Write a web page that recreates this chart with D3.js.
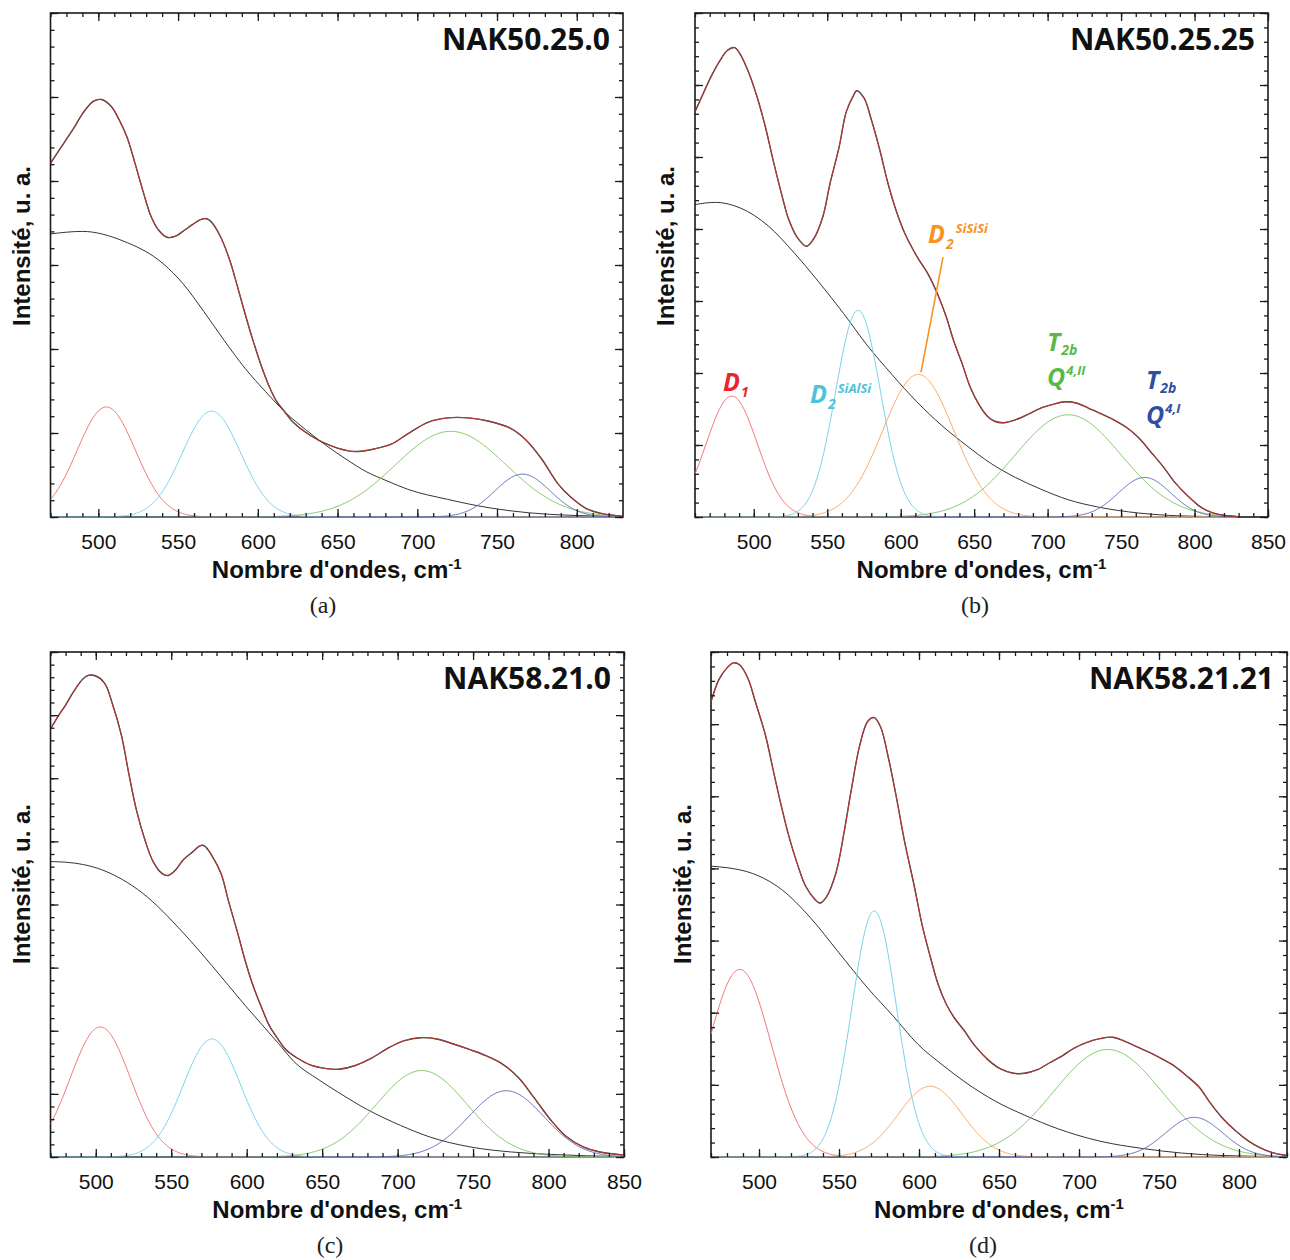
<!DOCTYPE html>
<html><head><meta charset="utf-8">
<script src="https://cdn.jsdelivr.net/npm/d3@7/dist/d3.min.js"></script>
<style>
body{margin:0;background:#fff;}
svg{display:block;}
</style></head>
<body><svg id="chart" width="1290" height="1260"></svg>
<script>
// ================= DATA =================
// intensity unit = one major y tick of each panel (axes carry no numbers)
const sampleNames = ["NAK50.25.0", "NAK50.25.25", "NAK58.21.0", "NAK58.21.21"];
const captions = ["(a)", "(b)", "(c)", "(d)"];
const xTitle = "Nombre d'ondes, cm";
const xTitleSup = "-1";
const yTitle = "Intensité, u. a.";

const xTickLabelsA = [500, 550, 600, 650, 700, 750, 800];
const xTickLabelsB = [500, 550, 600, 650, 700, 750, 800, 850];
const xTickLabelsC = [500, 550, 600, 650, 700, 750, 800, 850];
const xTickLabelsD = [500, 550, 600, 650, 700, 750, 800];

// measured spectra (wavenumber, intensity)
const specWnA = [470,479,485,490,497,502,508,513,518,523,528,533,538,543,548,553,559,564,568,571,576,582,587,592,597,602,607,612,617,622,633,643,656,663,673,684,694,707,719,732,745,758,768,778,788,796,806,816,829];
const specIntA = [4.21,4.47,4.64,4.80,4.95,4.97,4.89,4.73,4.52,4.21,3.88,3.58,3.41,3.33,3.34,3.40,3.48,3.54,3.55,3.51,3.36,3.08,2.76,2.42,2.10,1.81,1.56,1.37,1.25,1.13,0.97,0.87,0.79,0.78,0.81,0.87,0.99,1.13,1.18,1.18,1.14,1.06,0.92,0.69,0.40,0.24,0.10,0.04,0.01];

const specWnB = [460,466,471,477,482,487,491,496,502,508,513,519,524,530,536,541,547,552,558,563,568,570,575,580,586,591,597,603,611,619,625,631,636,642,647,653,659,664,670,678,687,695,703,712,720,728,737,745,754,762,770,779,787,796,804,812,821,829];
const specIntB = [5.63,5.90,6.12,6.34,6.48,6.52,6.42,6.20,5.85,5.41,4.97,4.48,4.12,3.87,3.76,3.87,4.17,4.64,5.13,5.63,5.86,5.92,5.82,5.52,5.08,4.66,4.25,3.93,3.62,3.36,3.10,2.78,2.45,2.12,1.82,1.57,1.40,1.33,1.31,1.35,1.43,1.51,1.56,1.60,1.58,1.51,1.43,1.35,1.24,1.10,0.91,0.69,0.47,0.28,0.14,0.06,0.02,0.005];

const specWnC = [470,475,480,485,491,495,500,506,511,517,522,527,533,538,544,548,553,558,564,569,572,577,583,588,594,599,604,610,615,621,626,634,642,653,661,672,683,694,704,715,726,737,748,758,769,780,791,802,812,823,834,850];
const specIntC = [6.78,6.98,7.16,7.36,7.56,7.63,7.62,7.50,7.18,6.68,6.06,5.49,4.99,4.68,4.49,4.46,4.55,4.71,4.83,4.93,4.93,4.77,4.49,4.05,3.55,3.11,2.73,2.36,2.08,1.86,1.70,1.56,1.46,1.40,1.39,1.45,1.57,1.73,1.84,1.89,1.87,1.79,1.70,1.61,1.48,1.26,0.92,0.57,0.32,0.16,0.08,0.03];

const specWnD = [470,475,480,484,488,493,498,504,509,514,519,524,529,535,538,542,548,553,558,563,568,572,576,581,586,591,597,602,607,612,617,622,628,635,643,651,659,666,674,682,690,697,705,713,721,728,736,744,751,759,767,775,782,790,798,806,813,821,830];
const specIntD = [6.31,6.62,6.78,6.85,6.82,6.64,6.29,5.85,5.35,4.86,4.42,4.06,3.76,3.57,3.52,3.60,3.93,4.48,5.13,5.71,6.04,6.09,5.96,5.52,4.97,4.37,3.76,3.21,2.78,2.39,2.12,1.93,1.76,1.54,1.35,1.22,1.16,1.16,1.21,1.31,1.41,1.51,1.59,1.64,1.66,1.61,1.53,1.45,1.37,1.27,1.13,0.97,0.75,0.53,0.36,0.22,0.13,0.06,0.02];

// broad background curve (black)
const bgWnA = [470,490,515,541,553,566,579,592,605,617,630,643,656,668,681,694,719,745,770,796,829];
const bgIntA = [3.37,3.40,3.29,3.01,2.78,2.45,2.10,1.77,1.49,1.25,1.04,0.85,0.68,0.54,0.43,0.33,0.21,0.11,0.05,0.02,0.005];
const bgWnB = [460,474,491,510,527,544,561,577,594,611,628,645,661,678,695,714,734,762,790,829];
const bgIntB = [4.34,4.37,4.29,4.04,3.68,3.27,2.83,2.39,1.98,1.60,1.27,0.99,0.75,0.55,0.39,0.24,0.14,0.055,0.016,0];
const bgWnC = [470,480,504,531,558,577,599,621,631,648,661,680,702,721,748,775,802,850];
const bgIntC = [4.68,4.67,4.55,4.18,3.55,3.03,2.40,1.80,1.52,1.22,1.02,0.75,0.50,0.32,0.16,0.08,0.04,0.006];
const bgWnD = [470,480,496,514,532,550,568,584,599,615,630,648,666,687,713,739,764,790,830];
const bgIntD = [4.03,4.01,3.93,3.71,3.32,2.83,2.34,1.95,1.57,1.27,1.02,0.77,0.58,0.39,0.22,0.12,0.055,0.02,0.005];

// Gaussian components: D1, D2(SiAlSi), D2(SiSiSi), T2b/Q4,II, T2b/Q4,I
// centre (cm-1), height (intensity units), FWHM (cm-1); null = component absent
const componentNames = ["D1", "D2 SiAlSi", "D2 SiSiSi", "T2b Q4,II", "T2b Q4,I"];
const peakCenterA = [505, 571, null, 721, 766];
const peakHeightA = [1.31, 1.26, null, 1.02, 0.51];
const peakFwhmA   = [43, 43, null, 82, 41];
const peakCenterB = [485, 571, 612, 714, 766];
const peakHeightB = [1.68, 2.87, 1.98, 1.42, 0.55];
const peakFwhmB   = [41, 36, 57, 85, 42];
const peakCenterC = [503, 577, null, 716, 772];
const peakHeightC = [2.06, 1.87, null, 1.37, 1.05];
const peakFwhmC   = [47, 45, null, 71, 59];
const peakCenterD = [488, 572, 607, 718, 772];
const peakHeightD = [2.60, 3.41, 0.98, 1.49, 0.55];
const peakFwhmD   = [46, 33, 47, 80, 42];

// ================= LAYOUT & STYLE =================
const componentColors = ["#f27272", "#78d2ec", "#f9a862", "#7cc65e", "#5f6bbb"];
const labelColors = ["#e8262b", "#4ec3dc", "#f7931e", "#58b947", "#2f4ea2"];

const panels = [
  {left: 50.5, right: 623, top: 13, bottom: 517, xDomain: [470, 829], yMax: 6,
   ticks: xTickLabelsA, wn: specWnA, val: specIntA, bgWn: bgWnA, bgVal: bgIntA,
   pc: peakCenterA, ph: peakHeightA, pw: peakFwhmA, ytx: 30, yty: 246, capx: 323},
  {left: 695, right: 1268, top: 13, bottom: 517, xDomain: [460, 850], yMax: 7,
   ticks: xTickLabelsB, wn: specWnB, val: specIntB, bgWn: bgWnB, bgVal: bgIntB,
   pc: peakCenterB, ph: peakHeightB, pw: peakFwhmB, ytx: 674, yty: 246, capx: 975},
  {left: 50.5, right: 624, top: 652, bottom: 1157, xDomain: [470, 850], yMax: 8,
   ticks: xTickLabelsC, wn: specWnC, val: specIntC, bgWn: bgWnC, bgVal: bgIntC,
   pc: peakCenterC, ph: peakHeightC, pw: peakFwhmC, ytx: 30, yty: 884, capx: 330},
  {left: 711, right: 1287, top: 652, bottom: 1157, xDomain: [470, 830], yMax: 7,
   ticks: xTickLabelsD, wn: specWnD, val: specIntD, bgWn: bgWnD, bgVal: bgIntD,
   pc: peakCenterD, ph: peakHeightD, pw: peakFwhmD, ytx: 691, yty: 884, capx: 983}
];

// annotations of panel (b), anchored in data coordinates
// role m = main letter, b = subscript, p = superscript
const annotations = [
  {i: 0, w: 479.1, v: 1.75, parts: [["D", "m"], ["1", "b"]]},
  {i: 1, w: 538.3, v: 1.583, parts: [["D", "m"], ["2", "b"], ["SiAlSi", "p"]]},
  {i: 2, w: 618.6, v: 3.806, parts: [["D", "m"], ["2", "b"], ["SiSiSi", "p"]]},
  {i: 3, w: 699.6, v: 2.306, parts: [["T", "m"], ["2b", "b"]]},
  {i: 3, w: 699.6, v: 1.819, parts: [["Q", "m"], ["4,II", "p"]]},
  {i: 4, w: 767, v: 1.778, parts: [["T", "m"], ["2b", "b"]]},
  {i: 4, w: 767, v: 1.292, parts: [["Q", "m"], ["4,I", "p"]]}
];
const leader = {i: 2, w1: 628.8, v1: 3.61, w2: 613.8, v2: 2.01};

const svg = d3.select("#chart");
const SANS = "'Liberation Sans', Arial, sans-serif";
const LABEL = "'Open Sans', sans-serif";

panels.forEach((p, k) => {
  const g = svg.append("g");
  const x = d3.scaleLinear().domain(p.xDomain).range([p.left, p.right]);
  const y = d3.scaleLinear().domain([0, p.yMax]).range([p.bottom, p.top]);
  const clipId = "clip" + k;
  g.append("clipPath").attr("id", clipId).append("rect")
    .attr("x", p.left).attr("y", p.top).attr("width", p.right - p.left).attr("height", p.bottom - p.top + 1);
  const line = d3.line().x(d => x(d[0])).y(d => y(d[1]));
  const wExt = d3.extent(p.wn);

  // frame
  g.append("rect").attr("x", p.left).attr("y", p.top)
    .attr("width", p.right - p.left).attr("height", p.bottom - p.top)
    .attr("fill", "none").attr("stroke", "#1a1a1a").attr("stroke-width", 1.6);

  const plot = g.append("g").attr("clip-path", `url(#${clipId})`);

  // background
  plot.append("path").datum(d3.zip(p.bgWn, p.bgVal))
    .attr("d", line.curve(d3.curveMonotoneX))
    .attr("fill", "none").attr("stroke", "#1e1e1e").attr("stroke-width", 0.9);

  // components
  p.pc.forEach((c, j) => {
    if (c === null) return;
    const h = p.ph[j], fw = p.pw[j];
    const pts = d3.range(wExt[0], wExt[1] + 0.01, 0.5)
      .map(w => [w, h * Math.exp(-4 * Math.LN2 * ((w - c) / fw) ** 2)]);
    plot.append("path").datum(pts).attr("d", line.curve(d3.curveLinear))
      .attr("fill", "none").attr("stroke", componentColors[j]).attr("stroke-width", 1);
  });

  // measured spectrum (dark) and fitted envelope (red)
  const spec = d3.zip(p.wn, p.val);
  plot.append("path").datum(spec).attr("d", line.curve(d3.curveCatmullRom.alpha(0.5)))
    .attr("fill", "none").attr("stroke", "#2e2e2e").attr("stroke-width", 1.4);
  plot.append("path").datum(spec).attr("d", line.curve(d3.curveCatmullRom.alpha(0.5)))
    .attr("fill", "none").attr("stroke", "#ec3b36").attr("stroke-width", 0.8);

  // axes (ticks inward on all four sides)
  const minX = d3.range(Math.ceil(p.xDomain[0] / 10) * 10, p.xDomain[1] + 0.01, 10);
  const minY = d3.range(0, p.yMax + 0.001, 0.2);
  const majY = d3.range(0, p.yMax + 0.001, 1);
  const ax = (gen, tr) => g.append("g").attr("transform", tr).call(gen)
    .call(s => s.select(".domain").remove())
    .call(s => s.selectAll("line").attr("stroke", "#1a1a1a").attr("stroke-width", 1.3));
  ax(d3.axisBottom(x).tickValues(minX).tickSize(-4).tickFormat(""), `translate(0,${p.bottom})`);
  const bx = ax(d3.axisBottom(x).tickValues(p.ticks).tickSize(-8).tickPadding(17).tickFormat(d3.format("d")), `translate(0,${p.bottom})`);
  bx.selectAll("text").attr("font-family", SANS).attr("font-size", 21).attr("fill", "#111");
  ax(d3.axisTop(x).tickValues(minX).tickSize(-4).tickFormat(""), `translate(0,${p.top})`);
  ax(d3.axisTop(x).tickValues(p.ticks).tickSize(-8).tickFormat(""), `translate(0,${p.top})`);
  ax(d3.axisLeft(y).tickValues(minY).tickSize(-4).tickFormat(""), `translate(${p.left},0)`);
  ax(d3.axisLeft(y).tickValues(majY).tickSize(-8).tickFormat(""), `translate(${p.left},0)`);
  ax(d3.axisRight(y).tickValues(minY).tickSize(-4).tickFormat(""), `translate(${p.right},0)`);
  ax(d3.axisRight(y).tickValues(majY).tickSize(-8).tickFormat(""), `translate(${p.right},0)`);

  // titles
  const cx = (p.left + p.right) / 2;
  const xt = g.append("text").attr("x", cx).attr("y", p.bottom + 61).attr("text-anchor", "middle")
    .attr("font-family", SANS).attr("font-weight", "bold").attr("font-size", 24).attr("fill", "#111");
  xt.append("tspan").text(xTitle);
  xt.append("tspan").attr("dy", -9).attr("font-size", 15).text(xTitleSup);

  g.append("text").attr("transform", `translate(${p.ytx},${p.yty}) rotate(-90)`)
    .attr("text-anchor", "middle").attr("font-family", SANS).attr("font-weight", "bold")
    .attr("font-size", 24).attr("fill", "#111").text(yTitle);

  g.append("text").attr("x", p.right - 13).attr("y", p.top + 37).attr("text-anchor", "end")
    .attr("font-family", LABEL).attr("font-weight", 700).attr("font-size", 30)
    .attr("fill", "#111").text(sampleNames[k]);

  g.append("text").attr("x", p.capx).attr("y", p.bottom + 96).attr("text-anchor", "middle")
    .attr("font-family", "'Liberation Serif', 'DejaVu Serif', serif").attr("font-size", 24)
    .attr("fill", "#222").text(captions[k]);

  // annotations (panel b)
  if (k === 1) {
    annotations.forEach(a => {
      const ax0 = x(a.w), ay0 = y(a.v);
      const t = g.append("text").attr("x", ax0).attr("y", ay0)
        .attr("font-family", LABEL).attr("font-weight", 700).attr("font-style", "italic")
        .attr("fill", labelColors[a.i]);
      let prev = "m";
      a.parts.forEach(([txt, role]) => {
        const s = t.append("tspan").text(txt);
        if (role === "m") s.attr("font-size", 25);
        if (role === "b") s.attr("font-size", 14).attr("dy", a.parts.length === 2 && txt === "2b" ? 4 : 6).attr("dx", 1);
        if (role === "p") s.attr("font-size", 13).attr("dy", prev === "b" ? -16 : -11).attr("dx", prev === "b" ? 2 : 1);
        prev = role;
      });
    });
    g.append("line").attr("x1", x(leader.w1)).attr("y1", y(leader.v1))
      .attr("x2", x(leader.w2)).attr("y2", y(leader.v2))
      .attr("stroke", labelColors[leader.i]).attr("stroke-width", 1.6);
  }
});
</script>
</body></html>
